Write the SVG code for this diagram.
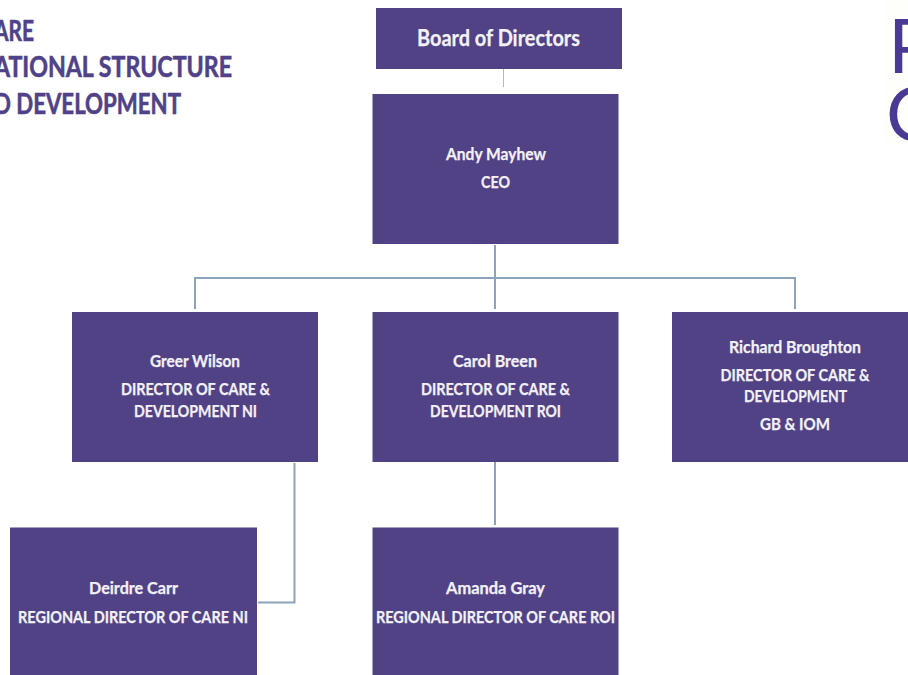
<svg xmlns="http://www.w3.org/2000/svg" width="908" height="675" viewBox="0 0 908 675">
<style>
.box{fill:#514285}
.t{font-family:"Lato","Open Sans",sans-serif;font-weight:700;font-size:17.5px;fill:#f3f1f8;text-anchor:middle;stroke:#f3f1f8;stroke-width:.25px}
.b{font-size:23px}
.h{font-family:"Lato","Open Sans",sans-serif;font-weight:700;font-size:29px;fill:#4f4288;stroke:#4f4288;stroke-width:.6px}
.l{font-family:"Lato","Open Sans",sans-serif;font-weight:400;font-size:76px;fill:#4a3a94}
.c{fill:none;stroke:#8ba3bd;stroke-width:2}
.thin{stroke:#a9bccf;stroke-width:1}
</style>
<rect width="908" height="675" fill="#fff"/>
<g id="title">
<text class="h" x="-6" y="41" textLength="40" lengthAdjust="spacingAndGlyphs">ARE</text>
<text class="h" x="-6" y="77" textLength="238" lengthAdjust="spacingAndGlyphs">ATIONAL STRUCTURE</text>
<text class="h" x="-6" y="114" textLength="187" lengthAdjust="spacingAndGlyphs">D DEVELOPMENT</text>
</g>
<g id="logo">
<rect x="884" y="0" width="24" height="145" fill="#fefefb"/>
<text class="l" x="888" y="73">P</text>
<text class="l" x="886" y="141">C</text>
</g>
<g id="connectors">
<path class="c thin" d="M503.500 69V87"/>
<path class="c" d="M495 245V309M195 309V278H795V309"/>
<path class="c" d="M495 462V525"/>
<path class="c" d="M294.500 463V602.500H258"/>
</g>
<g id="board"><rect class="box" x="376" y="8" width="246" height="61"/><text class="t b" x="498.500" y="46" textLength="163" lengthAdjust="spacingAndGlyphs">Board of Directors</text></g>
<g id="ceo"><rect class="box" x="372.500" y="94" width="246" height="150"/><text class="t" x="496" y="160" textLength="100" lengthAdjust="spacingAndGlyphs">Andy Mayhew</text><text class="t" x="495.500" y="188" textLength="29" lengthAdjust="spacingAndGlyphs">CEO</text></g>
<g id="greer"><rect class="box" x="72" y="312" width="246" height="150"/><text class="t" x="195" y="367" textLength="90" lengthAdjust="spacingAndGlyphs">Greer Wilson</text><text class="t" x="195.500" y="395" textLength="149" lengthAdjust="spacingAndGlyphs">DIRECTOR OF CARE &amp;</text><text class="t" x="195.500" y="417" textLength="123" lengthAdjust="spacingAndGlyphs">DEVELOPMENT NI</text></g>
<g id="carol"><rect class="box" x="372.500" y="312" width="246" height="150"/><text class="t" x="495" y="367" textLength="84" lengthAdjust="spacingAndGlyphs">Carol Breen</text><text class="t" x="495.500" y="395" textLength="149" lengthAdjust="spacingAndGlyphs">DIRECTOR OF CARE &amp;</text><text class="t" x="495.500" y="417" textLength="131" lengthAdjust="spacingAndGlyphs">DEVELOPMENT ROI</text></g>
<g id="richard"><rect class="box" x="672" y="312" width="236" height="150"/><text class="t" x="795" y="353" textLength="132" lengthAdjust="spacingAndGlyphs">Richard Broughton</text><text class="t" x="795" y="381" textLength="149" lengthAdjust="spacingAndGlyphs">DIRECTOR OF CARE &amp;</text><text class="t" x="795.500" y="402" textLength="103" lengthAdjust="spacingAndGlyphs">DEVELOPMENT</text><text class="t" x="795" y="430" textLength="70" lengthAdjust="spacingAndGlyphs">GB &amp; IOM</text></g>
<g id="deirdre"><rect class="box" x="10" y="527.500" width="247" height="147.500"/><text class="t" x="133.500" y="594" textLength="89" lengthAdjust="spacingAndGlyphs">Deirdre Carr</text><text class="t" x="133" y="622.500" textLength="230" lengthAdjust="spacingAndGlyphs">REGIONAL DIRECTOR OF CARE NI</text></g>
<g id="amanda"><rect class="box" x="372.500" y="527.500" width="246" height="147.500"/><text class="t" x="495.500" y="594" textLength="99" lengthAdjust="spacingAndGlyphs">Amanda Gray</text><text class="t" x="495.500" y="622.500" textLength="239" lengthAdjust="spacingAndGlyphs">REGIONAL DIRECTOR OF CARE ROI</text></g>
</svg>
